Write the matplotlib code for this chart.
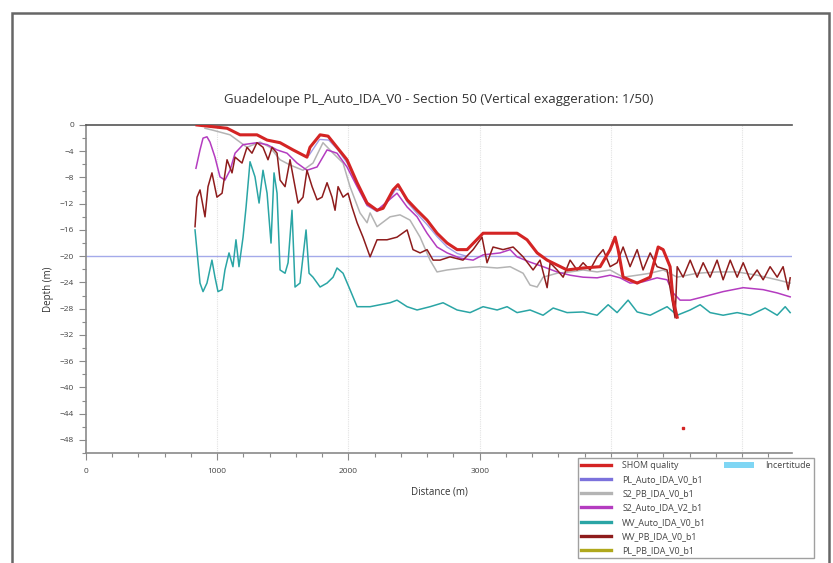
import numpy as np
import matplotlib.pyplot as plt
from matplotlib.lines import Line2D
from matplotlib.patches import Patch, Rectangle

plt.rcParams['font.family'] = ['Open Sans', 'DejaVu Sans']

# --- data read from the profile (distance in m, depth in m) ---
shom_x = [846, 1075, 1174, 1303, 1380, 1479, 1578, 1684, 1707, 1784, 1845, 1913, 1989,
          2066, 2142, 2218, 2264, 2340, 2378, 2447, 2523, 2599, 2675, 2752, 2828, 2904,
          3026, 3285, 3361, 3438, 3514, 3666, 3788, 3918, 3994, 4032, 4055, 4093, 4200,
          4299, 4360, 4398, 4451, 4474, 4505]
shom_d = [0, -0.5, -1.5, -1.5, -2.3, -2.7, -3.8, -4.9, -3.4, -1.5, -1.7, -3.4, -5.3,
          -8.8, -11.9, -13.0, -12.7, -9.9, -9.1, -11.4, -13.0, -14.5, -16.5, -18.0, -19.0, -19.0,
          -16.5, -16.5, -17.5, -19.5, -20.6, -22.1, -21.8, -21.6, -19.0, -17.1, -19.0, -23.2, -24.1,
          -23.2, -18.6, -19.0, -21.6, -26.7, -29.3]

pl_auto_x = [1700, 1780, 1850, 1920, 1990, 2066, 2142, 2218, 2290, 2360, 2400, 2450,
             2523, 2600, 2675, 2752, 2830, 2900]
pl_auto_d = [-4.6, -2.2, -2.3, -3.8, -5.8, -9.2, -12.3, -13.2, -12.0, -9.8, -10.0, -11.8,
             -13.5, -15.2, -17.0, -18.6, -19.6, -20.0]

s2pb_x = [907, 968, 1098, 1227, 1326, 1402, 1479, 1555, 1654, 1730, 1806, 1883, 1959,
          2012, 2088, 2142, 2165, 2218, 2317, 2393, 2469, 2546, 2622, 2675, 2752, 2873,
          3003, 3133, 3232, 3331, 3384, 3438, 3483, 3590, 3689, 3788, 3895, 3994, 4093,
          4200, 4299, 4398, 4505, 4657, 4809, 4962, 5114, 5267, 5366]
s2pb_d = [-0.5, -0.8, -1.5, -3.4, -2.6, -3.4, -5.3, -6.1, -6.9, -5.8, -2.7, -4.3, -5.8,
          -9.4, -13.4, -14.9, -13.4, -15.5, -14.0, -13.7, -14.5, -17.1, -20.6, -22.4, -22.1, -21.8,
          -21.6, -21.8, -21.6, -22.6, -24.4, -24.7, -23.2, -22.6, -22.4, -22.1, -22.4, -22.1, -23.2,
          -22.9, -22.6, -22.1, -23.2, -22.6, -22.4, -22.4, -22.9, -23.6, -24.1]

s2auto_x = [838, 869, 892, 922, 945, 983, 1021, 1059, 1098, 1136, 1197, 1303, 1380,
            1456, 1532, 1608, 1684, 1761, 1837, 1913, 1989, 2066, 2142, 2218, 2294, 2370,
            2447, 2523, 2599, 2675, 2752, 2851, 2950, 3026, 3156, 3232, 3285, 3384, 3483,
            3590, 3689, 3788, 3895, 3994, 4070, 4146, 4245, 4352, 4428, 4474, 4527, 4604,
            4703, 4855, 5008, 5160, 5267, 5366]
s2auto_d = [-6.6, -3.8, -2.0, -1.8, -2.6, -4.9, -7.9, -8.4, -6.9, -4.3, -3.0, -2.7, -3.0,
            -3.8, -4.3, -5.8, -6.9, -6.4, -3.8, -4.3, -6.4, -9.4, -12.2, -13.0, -11.7, -10.4,
            -12.5, -14.0, -16.5, -18.6, -19.5, -20.3, -20.6, -19.8, -19.5, -19.0, -20.1, -20.9, -21.6,
            -22.4, -22.9, -23.2, -23.3, -22.9, -23.3, -24.1, -23.9, -23.3, -23.6, -25.6, -26.7, -26.7,
            -26.2, -25.4, -24.8, -25.1, -25.6, -26.2]

wvauto_x = [831, 869, 892, 922, 960, 983, 1006, 1037, 1059, 1090, 1120, 1143, 1166,
            1197, 1220, 1250, 1288, 1319, 1349, 1380, 1410, 1433, 1456, 1479, 1517, 1540,
            1570, 1593, 1631, 1677, 1700, 1730, 1784, 1837, 1883, 1913, 1959, 2012, 2066,
            2165, 2317, 2370, 2447, 2523, 2622, 2721, 2828, 2927, 3026, 3133, 3209, 3285,
            3384, 3483, 3560, 3666, 3788, 3895, 3979, 4047, 4131, 4200, 4299, 4428, 4505,
            4604, 4680, 4756, 4855, 4962, 5061, 5175, 5267, 5328, 5366]
wvauto_d = [-16.0, -24.1, -25.4, -24.1, -20.6, -23.2, -25.4, -25.1, -22.1, -19.5, -21.6, -17.5, -21.6,
            -17.1, -12.5, -5.6, -7.9, -11.9, -6.9, -10.4, -18.0, -7.3, -10.4, -22.1, -22.6, -21.0,
            -13.0, -24.7, -24.1, -16.0, -22.6, -23.2, -24.7, -24.1, -23.2, -21.8, -22.6, -25.1, -27.7,
            -27.7, -27.1, -26.7, -27.7, -28.2, -27.7, -27.1, -28.2, -28.6, -27.7, -28.2, -27.7, -28.6,
            -28.2, -29.0, -27.9, -28.6, -28.5, -29.0, -27.4, -28.6, -26.7, -28.5, -29.0, -27.7, -29.0,
            -28.2, -27.4, -28.6, -29.0, -28.6, -29.0, -27.9, -29.0, -27.7, -28.6]

wvpb_x = [831, 846, 869, 907, 930, 960, 998, 1037, 1075, 1113, 1136, 1189, 1227, 1265,
          1303, 1349, 1387, 1418, 1456, 1479, 1517, 1555, 1593, 1616, 1654, 1684, 1723,
          1761, 1799, 1837, 1875, 1898, 1921, 1959, 1997, 2027, 2066, 2111, 2165, 2218,
          2294, 2370, 2447, 2492, 2546, 2599, 2645, 2698, 2774, 2873, 2950, 3018, 3056,
          3102, 3178, 3255, 3331, 3407, 3460, 3514, 3537, 3590, 3636, 3689, 3742, 3788,
          3841, 3895, 3941, 3994, 4047, 4093, 4146, 4200, 4245, 4299, 4352, 4428, 4489,
          4505, 4550, 4604, 4657, 4703, 4756, 4809, 4855, 4909, 4962, 5008, 5061, 5114,
          5160, 5213, 5267, 5312, 5351, 5366]
wvpb_d = [-15.5, -11.0, -9.9, -14.0, -9.4, -7.3, -11.0, -10.4, -5.3, -7.3, -4.9, -5.8, -3.4, -4.3,
          -2.7, -3.4, -5.3, -3.4, -4.3, -8.4, -9.4, -5.3, -9.4, -11.9, -11.0, -6.9, -9.4,
          -11.4, -11.0, -8.8, -11.0, -13.0, -9.4, -11.0, -10.4, -12.5, -14.9, -17.1, -20.1, -17.5,
          -17.5, -17.1, -16.0, -19.0, -19.5, -19.0, -20.6, -20.6, -20.1, -20.6, -19.0, -17.1, -21.0,
          -18.6, -19.0, -18.6, -20.1, -22.1, -20.6, -24.8, -21.0, -22.1, -23.2, -20.6, -22.1, -21.0,
          -22.1, -20.1, -19.0, -21.6, -21.0, -18.6, -21.6, -19.0, -22.1, -19.5, -21.6, -22.1, -29.4,
          -21.6, -23.2, -20.6, -23.2, -21.0, -23.2, -20.6, -23.6, -20.6, -23.2, -21.0, -23.6, -22.1,
          -23.6, -21.6, -23.2, -21.6, -25.1, -23.3]

# isolated sounding near the bottom
dot_x = [4550]
dot_d = [-46.2]

ref_depth = -20
series = [
    ('SHOM quality', '#d42424', 2.2),
    ('PL_Auto_IDA_V0_b1', '#7c72dc', 1.0),
    ('S2_PB_IDA_V0_b1', '#b4b4b4', 1.1),
    ('S2_Auto_IDA_V2_b1', '#b43cc0', 1.1),
    ('WV_Auto_IDA_V0_b1', '#2aa5a5', 1.1),
    ('WV_PB_IDA_V0_b1', '#8e1c1c', 1.1),
    ('PL_PB_IDA_V0_b1', '#b0a81c', 1.1),
]
colors = {name: c for name, c, _ in series}

fig = plt.figure(figsize=(8.33, 5.63), dpi=100)
ax = fig.add_axes([0.1032, 0.1954, 0.8476, 0.5826])

ax.axhline(ref_depth, color='#a4aaea', lw=1.0, zorder=1)
ax.plot(s2pb_x, s2pb_d, color=colors['S2_PB_IDA_V0_b1'], lw=1.1, zorder=2)
ax.plot(wvauto_x, wvauto_d, color=colors['WV_Auto_IDA_V0_b1'], lw=1.1, zorder=3)
ax.plot(pl_auto_x, pl_auto_d, color=colors['PL_Auto_IDA_V0_b1'], lw=1.0, alpha=0.7, zorder=3)
ax.plot(s2auto_x, s2auto_d, color=colors['S2_Auto_IDA_V2_b1'], lw=1.1, zorder=4)
ax.plot(wvpb_x, wvpb_d, color=colors['WV_PB_IDA_V0_b1'], lw=1.1, zorder=5)
ax.plot(shom_x, shom_d, color=colors['SHOM quality'], lw=2.2, zorder=6)
ax.plot(dot_x, dot_d, 's', color=colors['SHOM quality'], ms=1.5, zorder=6)

ax.set_xlim(0, 5380)
ax.set_ylim(-50, 0)
ax.set_xticks([0, 1000, 2000, 3000])
ax.set_xticks(np.arange(0, 5380, 200), minor=True)
ax.set_yticks(np.arange(0, -49, -4))
ax.set_yticks(np.arange(0, -51, -2), minor=True)
for gx in [1000, 2000, 3000, 4000, 5000]:
    ax.axvline(gx, color='#e2e2e2', lw=0.8, ls=(0, (1, 1)), zorder=0)

for side in ['left', 'bottom']:
    ax.spines[side].set_color('#8a8a8a')
    ax.spines[side].set_linewidth(1.2)
ax.spines['top'].set_color('#555555')
ax.spines['top'].set_linewidth(1.2)
ax.spines['right'].set_visible(False)
ax.tick_params(which='both', colors='#8a8a8a', labelcolor='#444444', labelsize=6)
ax.tick_params(which='major', length=5, width=0.8)
ax.tick_params(which='minor', length=3, width=0.8)
ax.tick_params(axis='x', pad=6)

ax.set_title('Guadeloupe PL_Auto_IDA_V0 - Section 50 (Vertical exaggeration: 1/50)',
             fontsize=9.5, color='#333333', pad=16)
ax.set_xlabel('Distance (m)', fontsize=7, color='#333333', labelpad=8)
ax.set_ylabel('Depth (m)', fontsize=7, color='#333333', labelpad=4)

# outer frame of the exported view
fig.patches.append(Rectangle((0.0144, -0.02), 0.981, 0.997, transform=fig.transFigure,
                             fill=False, edgecolor='#666666', lw=1.8))

handles = [Line2D([], [], color=c, lw=2.4) for _, c, _ in series]
labels = [name for name, _, _ in series]
handles += [Patch(facecolor='#7fd6f4', edgecolor='none')]
labels += ['Incertitude']
for _ in range(6):
    handles.append(Line2D([], [], color='none'))
    labels.append(' ')
leg = fig.legend(handles, labels, ncol=2, loc='upper left',
                 bbox_to_anchor=(0.694, 0.1865), fontsize=6.4, frameon=True,
                 fancybox=False, edgecolor='#888888', handlelength=3.4,
                 handleheight=0.7, handletextpad=1.2, labelspacing=0.58,
                 columnspacing=2.0, borderpad=0.35, borderaxespad=0,
                 labelcolor='#444444')
leg.get_frame().set_linewidth(1.0)

fig.savefig('out.png', dpi=100)
